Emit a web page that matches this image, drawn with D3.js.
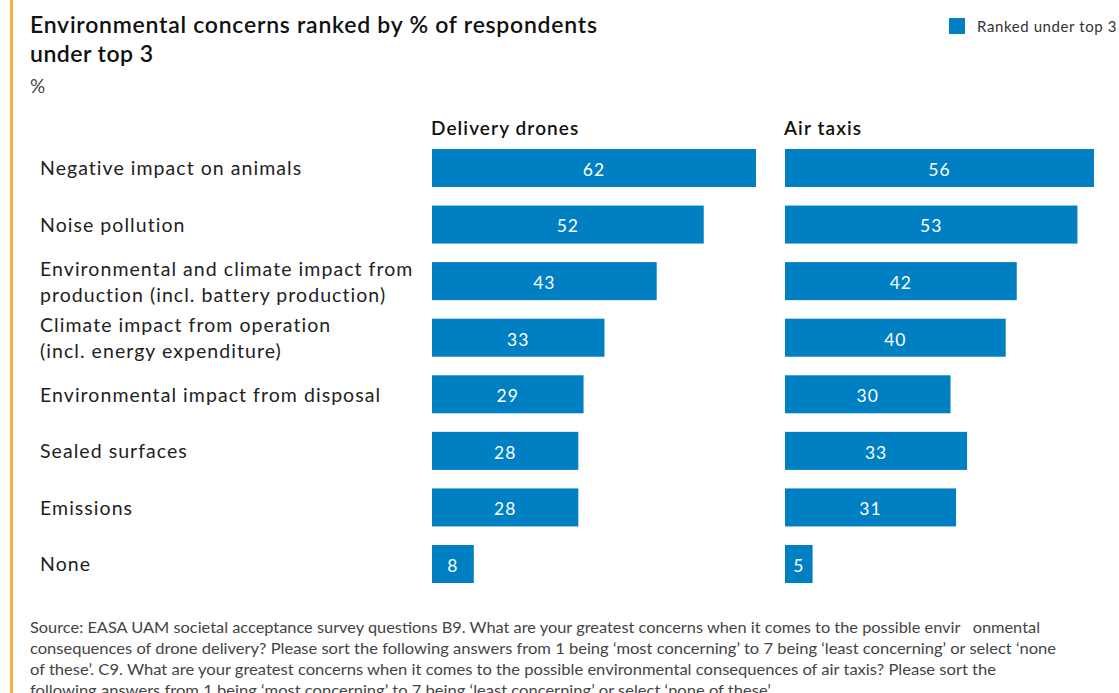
<!DOCTYPE html>
<html>
<head>
<meta charset="utf-8">
<script src="https://cdn.jsdelivr.net/npm/d3@7"></script>
<style>
  html, body { margin: 0; padding: 0; background: #fff; }
  svg { display: block; font-family: Lato, "Open Sans", sans-serif; }
  .foot { white-space: pre; }
</style>
</head>
<body>
<svg id="chart" width="1119" height="693"></svg>
<script>
// Concern categories (rows, top to bottom); multi-line labels split with "\n"
const categories = [
  "Negative impact on animals",
  "Noise pollution",
  "Environmental and climate impact from\nproduction (incl. battery production)",
  "Climate impact from operation\n(incl. energy expenditure)",
  "Environmental impact from disposal",
  "Sealed surfaces",
  "Emissions",
  "None"
];

// % of respondents ranking the concern in their top 3
const deliveryDrones = [62, 52, 43, 33, 29, 28, 28, 8];
const airTaxis       = [56, 53, 42, 40, 30, 33, 31, 5];

const panelTitles = ["Delivery drones", "Air taxis"];
const legendLabel = "Ranked under top 3";
const titleLines = ["Environmental concerns ranked by % of respondents", "under top 3"];
const unitLabel = "%";
const footnoteLines = [
  "Source: EASA UAM societal acceptance survey questions B9. What are your greatest concerns when it comes to the possible envir   onmental",
  "consequences of drone delivery? Please sort the following answers from 1 being \u2018most concerning\u2019 to 7 being \u2018least concerning\u2019 or select \u2018none",
  "of these\u2019. C9. What are your greatest concerns when it comes to the possible environmental consequences of air taxis? Please sort the",
  "following answers from 1 being \u2018most concerning\u2019 to 7 being \u2018least concerning\u2019 or select \u2018none of these\u2019."
];

const BLUE = "#007fc3";
const ORANGE = "#f8b23c";
const svg = d3.select("#chart");

// accent rule on the left edge
svg.append("rect").attr("x", 10).attr("y", 0).attr("width", 3).attr("height", 693).attr("fill", ORANGE);

// title block
const titleEnds = [597, 153];
svg.append("g").selectAll("text").data(titleLines).join("text")
  .attr("x", 30).attr("y", (d, i) => 33 + i * 29)
  .attr("font-size", 23).attr("font-weight", 600).attr("fill", "#111")
  .attr("textLength", (d, i) => titleEnds[i] - 30)
  .attr("lengthAdjust", "spacing")
  .text(d => d);
svg.append("text").attr("x", 30).attr("y", 93)
  .attr("font-size", 19).attr("fill", "#444").text(unitLabel);

// legend
svg.append("rect").attr("x", 949).attr("y", 18).attr("width", 16).attr("height", 16).attr("fill", BLUE);
svg.append("text").attr("x", 977).attr("y", 32).attr("font-size", 15)
  .attr("letter-spacing", 0.6).attr("fill", "#333").text(legendLabel);

// shared row layout
const y = d3.scaleBand().domain(d3.range(categories.length))
  .range([139.7, 592.3]).paddingInner(0.328).paddingOuter(0.164);

// category labels
const labels = svg.append("g").selectAll("text").data(categories).join("text")
  .attr("font-size", 19.5).attr("letter-spacing", 1.05).attr("fill", "#222");
labels.each(function (d, i) {
  const lines = d.split("\n");
  const cy = y(i) + y.bandwidth() / 2;
  const lh = 26;
  d3.select(this).selectAll("tspan").data(lines).join("tspan")
    .attr("x", 40)
    .attr("y", (l, j) => cy + (j - (lines.length - 1) / 2) * lh)
    .attr("dy", "0.38em")
    .text(l => l);
});

// bar panels
const panels = [
  { title: panelTitles[0], values: deliveryDrones, x0: 432, width: 324 },
  { title: panelTitles[1], values: airTaxis,       x0: 785, width: 309 }
];

panels.forEach(p => {
  const x = d3.scaleLinear().domain([0, d3.max(p.values)]).range([0, p.width]);
  const g = svg.append("g").attr("transform", `translate(${p.x0},0)`);

  g.append("text").attr("x", -1).attr("y", 135)
    .attr("font-size", 19).attr("font-weight", 600).attr("letter-spacing", 1.1)
    .attr("fill", "#111").text(p.title);

  g.selectAll("rect").data(p.values).join("rect")
    .attr("x", 0).attr("y", (d, i) => y(i))
    .attr("width", d => x(d)).attr("height", y.bandwidth())
    .attr("fill", BLUE);

  g.selectAll("text.val").data(p.values).join("text")
    .attr("class", "val")
    .attr("x", d => x(d) / 2).attr("y", (d, i) => y(i) + y.bandwidth() / 2)
    .attr("dy", "0.45em").attr("text-anchor", "middle")
    .attr("font-size", 17.5).attr("letter-spacing", 1).attr("fill", "#fff")
    .text(d => d);
});

// footnote
const footEnds = [1040, 1056, 996, 773];
svg.append("g").selectAll("text").data(footnoteLines).join("text")
  .attr("class", "foot")
  .attr("x", 30).attr("y", (d, i) => 633 + i * 21)
  .attr("font-size", 15).attr("fill", "#444")
  .attr("textLength", (d, i) => footEnds[i] - 30)
  .attr("lengthAdjust", "spacingAndGlyphs")
  .text(d => d);
</script>
</body>
</html>
